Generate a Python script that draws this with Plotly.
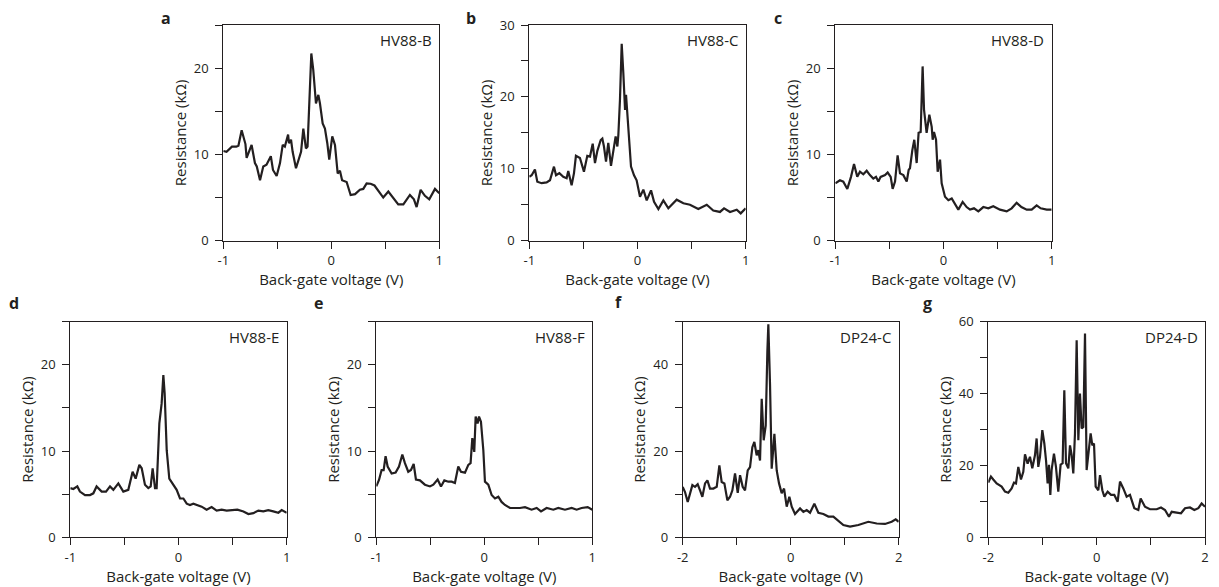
import plotly.graph_objects as go

W, H = 1219, 587
OFF = 8                      # page body margin around the plot div
FW, FH = W - OFF, H - OFF    # figure size so the page fits the window

# ── Data (gate voltage V, resistance kΩ) ─────────────────────────────────────

a_x = [-1, -0.97, -0.92, -0.88, -0.86, -0.83, -0.795, -0.784, -0.738, -0.707, -0.69, -0.66,
       -0.63, -0.6, -0.56, -0.54, -0.506, -0.475, -0.45, -0.43, -0.40, -0.392, -0.373, -0.358,
       -0.327, -0.296, -0.28, -0.259, -0.235, -0.22, -0.204, -0.185, -0.167, -0.142, -0.12,
       -0.105, -0.08, -0.059, -0.037, -0.019, 0.009, 0.034, 0.059, 0.08, 0.10, 0.142, 0.179,
       0.22, 0.265, 0.296, 0.327, 0.364, 0.40, 0.444, 0.481, 0.528, 0.574, 0.62, 0.667, 0.728,
       0.765, 0.79, 0.827, 0.867, 0.907, 0.96, 1.0]
a_y = [10.4, 10.3, 10.9, 10.9, 11.0, 12.8, 11.2, 9.6, 11.1, 9.0, 8.6, 7.0,
       8.6, 8.8, 9.8, 8.2, 7.5, 9.0, 11.1, 10.9, 12.3, 11.3, 11.7, 10.3,
       8.4, 9.7, 10.3, 13.0, 10.7, 10.9, 16.7, 21.7, 19.8, 15.9, 16.9,
       15.9, 13.6, 13.0, 11.3, 9.4, 12.1, 11.1, 7.8, 8.1, 7.0, 6.8, 5.3,
       5.4, 5.9, 6.0, 6.65, 6.6, 6.4, 5.7, 5.0, 5.7, 5.0, 4.2, 4.2, 5.3,
       4.8, 3.9, 5.9, 5.2, 4.8, 6.0, 5.5]

b_x = [-1, -0.978, -0.948, -0.926, -0.886, -0.84, -0.809, -0.772, -0.753, -0.722, -0.686,
       -0.655, -0.64, -0.609, -0.587, -0.569, -0.532, -0.495, -0.464, -0.439, -0.414, -0.393,
       -0.371, -0.34, -0.325, -0.31, -0.291, -0.27, -0.245, -0.223, -0.202, -0.186, -0.177,
       -0.162, -0.146, -0.131, -0.115, -0.106, -0.094, -0.075, -0.06, -0.032, -0.008, 0.023,
       0.054, 0.085, 0.125, 0.153, 0.193, 0.239, 0.285, 0.362, 0.424, 0.485, 0.562, 0.64,
       0.70, 0.762, 0.8, 0.855, 0.917, 0.954, 1.0]
b_y = [8.9, 9.1, 9.9, 8.2, 8.0, 8.1, 8.4, 10.3, 9.1, 9.4, 8.9,
       8.7, 9.7, 7.7, 9.4, 11.8, 11.5, 9.6, 11.8, 11.7, 13.5, 10.8,
       12.5, 14.0, 14.2, 13.1, 11.0, 13.6, 10.4, 12.6, 14.5, 13.1, 14.7,
       19.6, 27.4, 23.3, 18.2, 20.3, 17.7, 14.0, 10.3, 9.1, 8.4, 6.1,
       7.1, 5.6, 7.0, 5.4, 4.4, 5.6, 4.5, 5.7, 5.2, 5.0, 4.4, 5.0,
       4.2, 4.0, 4.5, 4.0, 4.3, 3.8, 4.5]

c_x = [-1, -0.957, -0.926, -0.889, -0.855, -0.827, -0.797, -0.772, -0.741, -0.71, -0.68,
       -0.649, -0.624, -0.602, -0.581, -0.54, -0.516, -0.488, -0.47, -0.448, -0.424, -0.402,
       -0.371, -0.34, -0.322, -0.31, -0.288, -0.27, -0.248, -0.23, -0.211, -0.193, -0.18,
       -0.156, -0.131, -0.109, -0.1, -0.088, -0.069, -0.054, -0.032, -0.017, 0.014, 0.045,
       0.076, 0.097, 0.137, 0.177, 0.214, 0.245, 0.282, 0.322, 0.368, 0.414, 0.46, 0.522,
       0.584, 0.63, 0.676, 0.72, 0.769, 0.815, 0.861, 0.898, 0.954, 1.0]
c_y = [6.65, 7.0, 6.85, 6.0, 7.4, 8.9, 7.4, 8.0, 7.7, 8.1, 7.6,
       7.2, 7.4, 6.85, 7.4, 7.6, 7.9, 7.4, 6.0, 6.85, 9.9, 7.8,
       7.6, 6.85, 8.2, 8.4, 10.5, 11.7, 9.0, 12.5, 12.6, 20.2, 15.2,
       12.5, 14.6, 13.2, 11.7, 12.6, 11.7, 8.0, 9.4, 6.65, 5.1, 4.7,
       4.9, 4.5, 3.6, 4.5, 3.9, 3.6, 3.75, 3.4, 3.9, 3.75, 4.0, 3.6,
       3.4, 3.75, 4.4, 3.9, 3.6, 3.6, 4.1, 3.75, 3.6, 3.6]

d_x = [-1, -0.972, -0.935, -0.911, -0.864, -0.818, -0.787, -0.757, -0.71, -0.67, -0.633,
       -0.602, -0.556, -0.51, -0.464, -0.424, -0.396, -0.362, -0.34, -0.31, -0.279, -0.257,
       -0.239, -0.217, -0.202, -0.177, -0.156, -0.14, -0.128, -0.109, -0.085, -0.048, -0.017,
       0.014, 0.045, 0.076, 0.106, 0.137, 0.168, 0.214, 0.26, 0.306, 0.353, 0.399, 0.445,
       0.507, 0.544, 0.6, 0.646, 0.692, 0.738, 0.784, 0.83, 0.876, 0.923, 0.954, 1.0]
d_y = [5.7, 5.6, 5.9, 5.3, 4.9, 4.9, 5.1, 5.9, 5.3, 5.3, 5.9,
       5.5, 6.25, 5.3, 5.5, 7.6, 6.8, 8.4, 8.0, 6.1, 5.7, 5.9,
       8.0, 5.7, 5.7, 13.2, 15.5, 18.8, 16.7, 10.1, 6.8, 6.1, 5.5,
       4.5, 4.5, 3.9, 3.75, 3.9, 3.75, 3.55, 3.2, 3.5, 3.1, 3.2, 3.1,
       3.15, 3.2, 3.0, 2.7, 2.8, 3.1, 3.0, 3.15, 3.0, 2.85, 3.15, 2.85]

e_x = [-1, -0.975, -0.951, -0.932, -0.914, -0.895, -0.858, -0.821, -0.79, -0.759, -0.735,
       -0.704, -0.679, -0.654, -0.633, -0.596, -0.55, -0.503, -0.472, -0.432, -0.401, -0.37,
       -0.333, -0.302, -0.272, -0.241, -0.216, -0.179, -0.148, -0.127, -0.111, -0.093, -0.08,
       -0.062, -0.049, -0.031, -0.009, 0.006, 0.037, 0.068, 0.099, 0.13, 0.16, 0.191, 0.238,
       0.284, 0.33, 0.377, 0.438, 0.485, 0.525, 0.577, 0.639, 0.685, 0.747, 0.809, 0.855,
       0.901, 0.957, 1.0]
e_y = [5.9, 6.65, 7.8, 7.8, 9.4, 8.2, 7.4, 7.5, 8.2, 9.6, 8.6,
       7.6, 7.8, 8.5, 6.7, 6.6, 6.1, 5.9, 6.1, 6.7, 5.9, 6.6,
       6.45, 6.45, 6.3, 8.2, 7.6, 7.5, 8.4, 8.6, 11.5, 9.9, 14.0,
       13.2, 14.0, 13.4, 10.1, 6.45, 6.1, 4.9, 4.5, 4.7, 4.1, 3.75, 3.4,
       3.4, 3.4, 3.5, 3.2, 3.4, 3.0, 3.4, 3.2, 3.4, 3.2, 3.4, 3.2,
       3.4, 3.5, 3.2]

f_x = [-2, -1.957, -1.907, -1.864, -1.821, -1.772, -1.722, -1.679, -1.636, -1.586, -1.543,
       -1.494, -1.432, -1.37, -1.321, -1.278, -1.228, -1.173, -1.123, -1.08, -1.031, -0.981,
       -0.938, -0.889, -0.846, -0.796, -0.753, -0.71, -0.673, -0.63, -0.599, -0.568, -0.537,
       -0.5, -0.463, -0.432, -0.414, -0.383, -0.352, -0.321, -0.302, -0.259, -0.216, -0.167,
       -0.123, -0.074, -0.025, 0.019, 0.08, 0.173, 0.235, 0.296, 0.358, 0.438, 0.512, 0.605,
       0.698, 0.79, 0.883, 0.975, 1.099, 1.253, 1.438, 1.593, 1.747, 1.87, 1.944, 2.0]
f_y = [11.7, 10.5, 8.2, 10.5, 12.1, 11.7, 12.3, 10.9, 9.4, 12.5, 13.2,
       11.3, 11.3, 11.7, 16.7, 12.8, 12.5, 8.6, 9.4, 10.9, 14.8, 10.3,
       14.4, 11.7, 10.9, 15.5, 16.3, 20.9, 22.1, 19.0, 20.2, 17.8, 32.1,
       22.5, 25.9, 43.2, 49.4, 35.5, 15.9, 20.9, 24.0, 15.5, 12.5, 10.2,
       11.3, 7.1, 9.4, 7.1, 5.4, 6.7, 5.9, 6.3, 5.7, 7.8, 5.7, 5.4,
       4.8, 4.8, 3.85, 2.85, 2.5, 2.85, 3.6, 3.2, 3.1, 3.6, 4.15, 3.6]

g_x = [-2, -1.951, -1.908, -1.846, -1.754, -1.692, -1.631, -1.569, -1.526, -1.489, -1.446,
       -1.397, -1.354, -1.323, -1.274, -1.231, -1.188, -1.138, -1.108, -1.077, -1.046, -1.003,
       -0.966, -0.935, -0.905, -0.88, -0.855, -0.831, -0.788, -0.751, -0.708, -0.665, -0.628,
       -0.597, -0.566, -0.523, -0.492, -0.462, -0.431, -0.4, -0.369, -0.338, -0.308, -0.277,
       -0.246, -0.215, -0.185, -0.154, -0.111, -0.08, -0.049, -0.018, 0.031, 0.062, 0.105,
       0.142, 0.203, 0.265, 0.326, 0.388, 0.431, 0.492, 0.554, 0.615, 0.695, 0.769, 0.812,
       0.892, 0.985, 1.108, 1.188, 1.262, 1.335, 1.385, 1.477, 1.557, 1.631, 1.723, 1.803,
       1.877, 1.938, 2.0]
g_y = [15.2, 16.9, 16.1, 15.0, 14.1, 12.7, 12.4, 13.6, 15.2, 15.0, 19.6,
       16.1, 18.2, 23.1, 20.5, 22.4, 19.2, 22.9, 27.5, 19.6, 22.4, 29.8,
       26.1, 21.5, 15.0, 20.2, 11.8, 18.8, 23.3, 19.6, 12.7, 20.2, 20.6,
       40.9, 20.6, 19.2, 25.6, 22.9, 17.8, 28.9, 54.8, 27.0, 40.0, 30.3,
       30.7, 56.7, 18.7, 22.4, 28.9, 25.6, 26.1, 14.1, 13.1, 17.3, 13.1,
       11.3, 12.7, 11.8, 11.8, 9.9, 15.5, 13.6, 11.3, 11.8, 8.1, 7.6, 10.8,
       8.5, 7.8, 7.8, 8.3, 7.6, 5.7, 7.1, 6.85, 6.7, 8.1, 8.3, 7.6,
       8.1, 9.4, 8.5]

letters = ["a", "b", "c", "d", "e", "f", "g"]
devices = ["HV88-B", "HV88-C", "HV88-D", "HV88-E", "HV88-F", "DP24-C", "DP24-D"]
xs = [a_x, b_x, c_x, d_x, e_x, f_x, g_x]
ys = [a_y, b_y, c_y, d_y, e_y, f_y, g_y]
y_max = [25, 30, 25, 25, 25, 50, 60]
gate_max = [1, 1, 1, 1, 1, 2, 2]

# ── Panel placement (window pixels: left, right, top, bottom) ────────────────

boxes = [
    (223.3, 439.3, 25.0, 240.7),
    (529.3, 745.7, 25.0, 240.7),
    (835.3, 1051.7, 25.0, 240.7),
    (70.3, 286.7, 321.7, 537.3),
    (376.3, 592.3, 321.7, 537.3),
    (682.7, 898.7, 321.7, 537.3),
    (988.3, 1205.0, 321.7, 537.3),
]
# top-row letters sit a little lower so their boxes stay inside the page
letter_pos = [(160, 18), (465, 18), (773, 18), (8, 303), (313, 303), (614, 302), (922, 303)]


def fx(p):
    return (p - OFF) / FW


def fy(p):
    return 1 - (p - OFF) / FH


INK = "#231f20"
FONT = "Open Sans"

fig = go.Figure()
annotations = []

for i in range(7):
    n = "" if i == 0 else str(i + 1)
    l, r, t, b = boxes[i]
    gm = gate_max[i]
    ym = y_max[i]

    fig.add_trace(go.Scatter(
        x=xs[i], y=ys[i], mode="lines",
        line=dict(color=INK, width=2.2),
        xaxis="x" + n, yaxis="y" + n,
        showlegend=False,
        hovertemplate="%{x:.2f} V<br>%{y:.1f} kΩ<extra>" + devices[i] + "</extra>",
    ))

    # ticks every half step, labels only on the ends and zero
    xt = [-gm, -gm / 2, 0, gm / 2, gm]
    xtt = ["-" + str(gm), "", "0", "", str(gm)]
    ystep = 5 if ym <= 30 else 10
    lab_step = 10 if ym <= 30 else 20
    yt = list(range(0, ym + 1, ystep))
    ytt = [str(v) if v % lab_step == 0 else "" for v in yt]

    axis_common = dict(
        showline=True, linecolor=INK, linewidth=1, mirror=True,
        ticks="outside", ticklen=7, tickwidth=1, tickcolor=INK,
        showgrid=False, zeroline=False, automargin=False,
        tickfont=dict(family=FONT, size=13, color=INK),
        fixedrange=True,
    )
    fig.layout["xaxis" + n] = dict(
        axis_common,
        domain=[fx(l), fx(r)], anchor="y" + n,
        range=[-gm, gm], tickmode="array", tickvals=xt, ticktext=xtt,
        ticklabelstandoff=1,
        title=dict(text="Back-gate voltage (V)", standoff=3,
                   font=dict(family=FONT, size=15, color=INK)),
    )
    fig.layout["yaxis" + n] = dict(
        axis_common,
        domain=[fy(b), fy(t)], anchor="x" + n,
        range=[0, ym], tickmode="array", tickvals=yt, ticktext=ytt,
        ticklabelstandoff=4,
        title=dict(text="Resistance (kΩ)", standoff=3,
                   font=dict(family=FONT, size=15, color=INK)),
    )

    annotations.append(dict(
        text=devices[i], xref="x" + n + " domain", yref="y" + n + " domain",
        x=0.975, y=0.93, xanchor="right", yanchor="middle", showarrow=False,
        font=dict(family=FONT, size=15, color=INK),
    ))
    lx, ly = letter_pos[i]
    annotations.append(dict(
        text="<b>" + letters[i] + "</b>", xref="paper", yref="paper",
        x=fx(lx), y=fy(ly), xanchor="left", yanchor="middle", showarrow=False,
        borderpad=0,
        font=dict(family=FONT, size=16, color=INK),
    ))

fig.update_layout(
    width=FW, height=FH,
    margin=dict(l=0, r=0, t=0, b=0),
    paper_bgcolor="white", plot_bgcolor="white",
    font=dict(family=FONT, size=14, color=INK),
    annotations=annotations,
)

fig.write_html("out.html")
